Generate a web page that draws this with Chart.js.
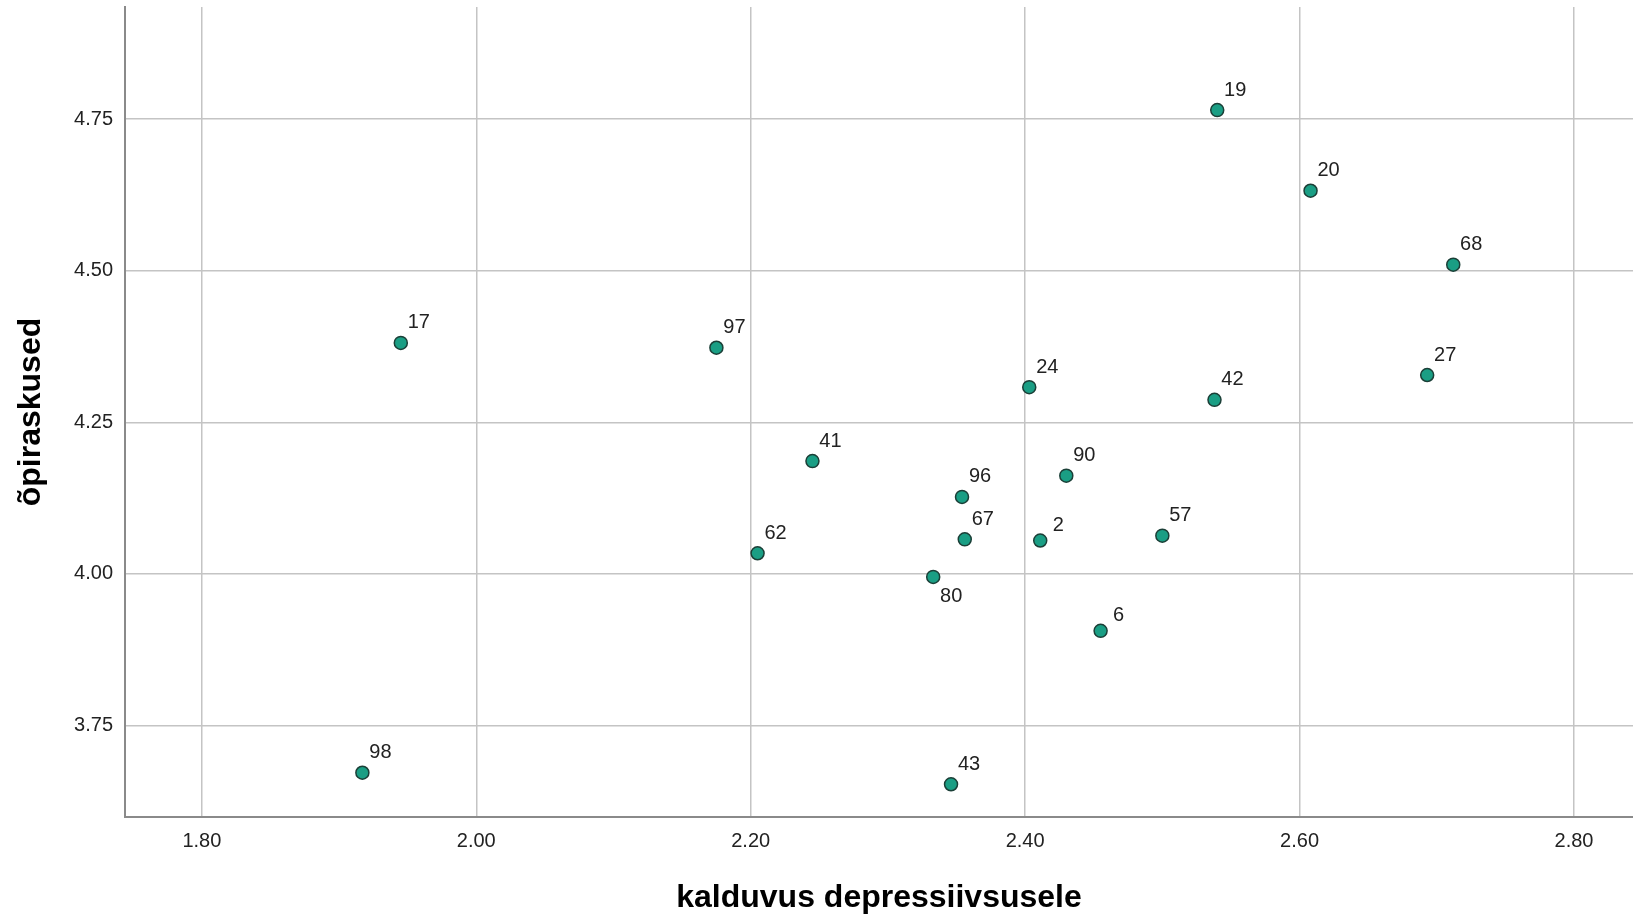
<!DOCTYPE html>
<html>
<head>
<meta charset="utf-8">
<title>õpiraskused vs kalduvus depressiivsusele</title>
<script src="https://cdn.jsdelivr.net/npm/chart.js@4/dist/chart.umd.min.js"></script>
<style>
  html, body { margin: 0; padding: 0; background: #fff; overflow: hidden; }
  #wrap { width: 1633px; height: 918px; }
  canvas { display: block; }
</style>
</head>
<body>
<div id="wrap"><canvas id="grafik" width="1633" height="918"></canvas></div>
<script>
// respondendi numbrid (punktide sildid)
const ids = ["17", "97", "98", "43", "19", "20", "68", "27", "24", "42", "41", "90", "96", "67", "2", "57", "62", "80", "6"];
// kalduvus depressiivsusele
const xVals = [1.945, 2.175, 1.917, 2.346, 2.540, 2.608, 2.712, 2.693, 2.403, 2.538, 2.245, 2.430, 2.354, 2.356, 2.411, 2.500, 2.205, 2.333, 2.455];
// õpiraskused
const yVals = [4.381, 4.373, 3.672, 3.653, 4.765, 4.632, 4.510, 4.328, 4.308, 4.287, 4.186, 4.162, 4.127, 4.057, 4.055, 4.063, 4.034, 3.995, 3.906];

const xTicks = [1.80, 2.00, 2.20, 2.40, 2.60, 2.80];
const yTicks = [3.75, 4.00, 4.25, 4.50, 4.75];

const fontFamily = "'Liberation Sans', Arial, sans-serif";
const labelsBelow = ["80"];

const punktid = xVals.map((x, i) => ({ x: x, y: yVals[i] }));

// numbrid punktide kõrval
const siltidePlugin = {
    id: "sildid",
    afterDatasetsDraw(chart) {
        const ctx = chart.ctx;
        const meta = chart.getDatasetMeta(0);
        ctx.save();
        ctx.font = "20px " + fontFamily;
        ctx.fillStyle = "#222";
        ctx.textAlign = "center";
        ctx.textBaseline = "middle";
        meta.data.forEach((el, i) => {
            const txt = ids[i];
            let dy = txt.length > 1 ? -20 : -15;
            if (labelsBelow.includes(txt)) dy = 20;
            ctx.fillText(txt, el.x + 18, el.y + dy);
        });
        ctx.restore();
    }
};

// telgede lisaruum maha, et joonis ulatuks servani
function nullPadding(axis) {
    axis.paddingTop = 0;
    axis.paddingBottom = 0;
    axis.paddingLeft = 0;
    axis.paddingRight = 0;
}

new Chart("grafik", {
    type: "scatter",
    data: {
        datasets: [{
            data: punktid,
            backgroundColor: "#1a9e84",
            borderColor: "#1b3f37",
            borderWidth: 1.5,
            pointRadius: 6.5,
            pointHoverRadius: 6.5
        }]
    },
    options: {
        responsive: false,
        animation: false,
        layout: { autoPadding: false, padding: { top: 7, left: 0, right: 0, bottom: 0 } },
        plugins: {
            legend: { display: false },
            tooltip: { enabled: false }
        },
        scales: {
            x: {
                type: "linear",
                min: 1.744,
                max: 2.843,
                afterBuildTicks: (axis) => { axis.ticks = xTicks.map(v => ({ value: v })); },
                afterFit: (axis) => { axis.height = 101; nullPadding(axis); },
                grid: { color: "#c4c4c4", lineWidth: 1.5, drawTicks: false },
                border: { color: "#8a8a8a", width: 2 },
                ticks: {
                    padding: 12,
                    color: "#222",
                    font: { family: fontFamily, size: 20 },
                    callback: (v) => Number(v).toFixed(2)
                },
                title: {
                    display: true,
                    text: "kalduvus depressiivsusele",
                    color: "#000",
                    font: { family: fontFamily, size: 32, weight: "bold" },
                    padding: { top: 0, bottom: 1 }
                }
            },
            y: {
                type: "linear",
                min: 3.599,
                max: 4.935,
                afterBuildTicks: (axis) => { axis.ticks = yTicks.map(v => ({ value: v })); },
                afterFit: (axis) => { axis.width = 125; nullPadding(axis); },
                grid: { color: "#c4c4c4", lineWidth: 1.5, drawTicks: false },
                border: { color: "#8a8a8a", width: 2 },
                ticks: {
                    padding: 12,
                    color: "#222",
                    font: { family: fontFamily, size: 20 },
                    callback: (v) => Number(v).toFixed(2)
                },
                title: {
                    display: true,
                    text: "õpiraskused",
                    color: "#000",
                    font: { family: fontFamily, size: 32, weight: "bold" },
                    padding: { top: 12, bottom: 0 }
                }
            }
        }
    },
    plugins: [siltidePlugin]
});
</script>
</body>
</html>
